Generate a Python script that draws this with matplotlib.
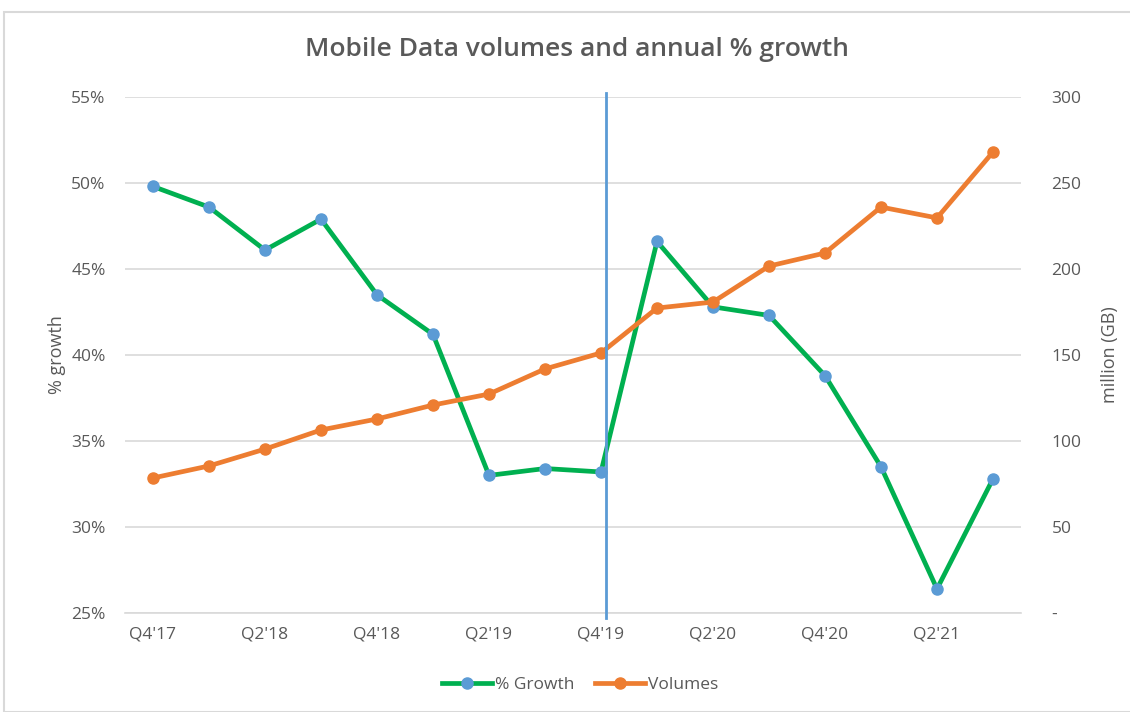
import matplotlib
matplotlib.use("Agg")
import matplotlib.pyplot as plt
from matplotlib.patches import Rectangle
from matplotlib.ticker import FuncFormatter

quarters = ["Q4'17", "Q1'18", "Q2'18", "Q3'18", "Q4'18", "Q1'19", "Q2'19", "Q3'19",
            "Q4'19", "Q1'20", "Q2'20", "Q3'20", "Q4'20", "Q1'21", "Q2'21", "Q3'21"]
growth = [49.8, 48.6, 46.1, 47.9, 43.5, 41.2, 33.0, 33.4, 33.2, 46.6, 42.8, 42.3, 38.8, 33.5, 26.4, 32.8]
volumes = [78.5, 85.5, 95.3, 106.4, 112.8, 120.9, 127.3, 141.9, 151.2, 177.3, 180.8, 201.7, 209.3, 236.0, 229.7, 268.0]
marker_quarter = "Q4'19"

plt.rcParams['font.family'] = ['Open Sans', 'DejaVu Sans']
TXT = '#595959'
GRID = '#D9D9D9'
GREEN = '#00B050'
BLUE = '#5B9BD5'
ORANGE = '#ED7D31'

fig = plt.figure(figsize=(11.3, 7.12), dpi=100)
fig.patches.append(Rectangle((4/1130, 0.0), 1.2, 1 - 12/712, transform=fig.transFigure,
                             fill=False, edgecolor=GRID, linewidth=1.5))
ax = fig.add_axes([125/1130, 1 - 613/712, (1021 - 125)/1130, (613 - 97)/712])
x = list(range(len(quarters)))

ax.set_xlim(-0.5, len(quarters) - 0.5)
ax.set_ylim(25, 55)
ax.set_yticks([25, 30, 35, 40, 45, 50, 55])
ax.yaxis.set_major_formatter(FuncFormatter(lambda v, p: f"{v:.0f}%"))
ax.grid(axis='y', color=GRID, linewidth=1.2)
ax.set_axisbelow(True)
for s in ax.spines.values():
    s.set_visible(False)
ax.spines['bottom'].set_visible(True)
ax.spines['bottom'].set_color(GRID)
ax.spines['bottom'].set_linewidth(1.2)
ax.tick_params(axis='both', length=0, colors=TXT, labelsize=12.5)
ax.tick_params(axis='y', pad=14)
ax.tick_params(axis='x', pad=10)
ax.set_xticks(x[::2])
ax.set_xticklabels(quarters[::2])
ax.set_ylabel("% growth", color=TXT, fontsize=13, labelpad=4)

gl, = ax.plot(x, growth, color=GREEN, linewidth=3.4, marker='o', markersize=8,
              markerfacecolor=BLUE, markeredgecolor=BLUE, label='% Growth', zorder=3)

ax2 = ax.twinx()
ax2.set_xlim(-0.5, len(quarters) - 0.5)
ax2.set_ylim(0, 300)
ax2.set_yticks([0, 50, 100, 150, 200, 250, 300])
ax2.yaxis.set_major_formatter(FuncFormatter(lambda v, p: "-" if v == 0 else f"{v:.0f}"))
for s in ax2.spines.values():
    s.set_visible(False)
ax2.tick_params(axis='both', length=0, colors=TXT, labelsize=12.5)
ax2.tick_params(axis='y', pad=22)
ax2.set_ylabel("million (GB)", color=TXT, fontsize=13, labelpad=14)
vl, = ax2.plot(x, volumes, color=ORANGE, linewidth=3.4, marker='o', markersize=8,
               markerfacecolor=ORANGE, markeredgecolor=ORANGE, label='Volumes', zorder=3)

xi = quarters.index(marker_quarter)
ax2.axvline(xi + 0.09, ymin=-0.01, ymax=1.008, color=BLUE, linewidth=2, clip_on=False, zorder=4)

fig.text(577/1130, 1 - 50/712, "Mobile Data volumes and annual % growth", ha='center', va='center',
         fontsize=19, fontweight='semibold', color=TXT)

fig.legend(handles=[gl, vl], loc='center', bbox_to_anchor=(580/1130, 1 - 685/712), ncol=2,
           frameon=False, fontsize=12.5, labelcolor=TXT, handlelength=2.9, handletextpad=0.15,
           columnspacing=1.2)

fig.savefig("out.png", dpi=100)
